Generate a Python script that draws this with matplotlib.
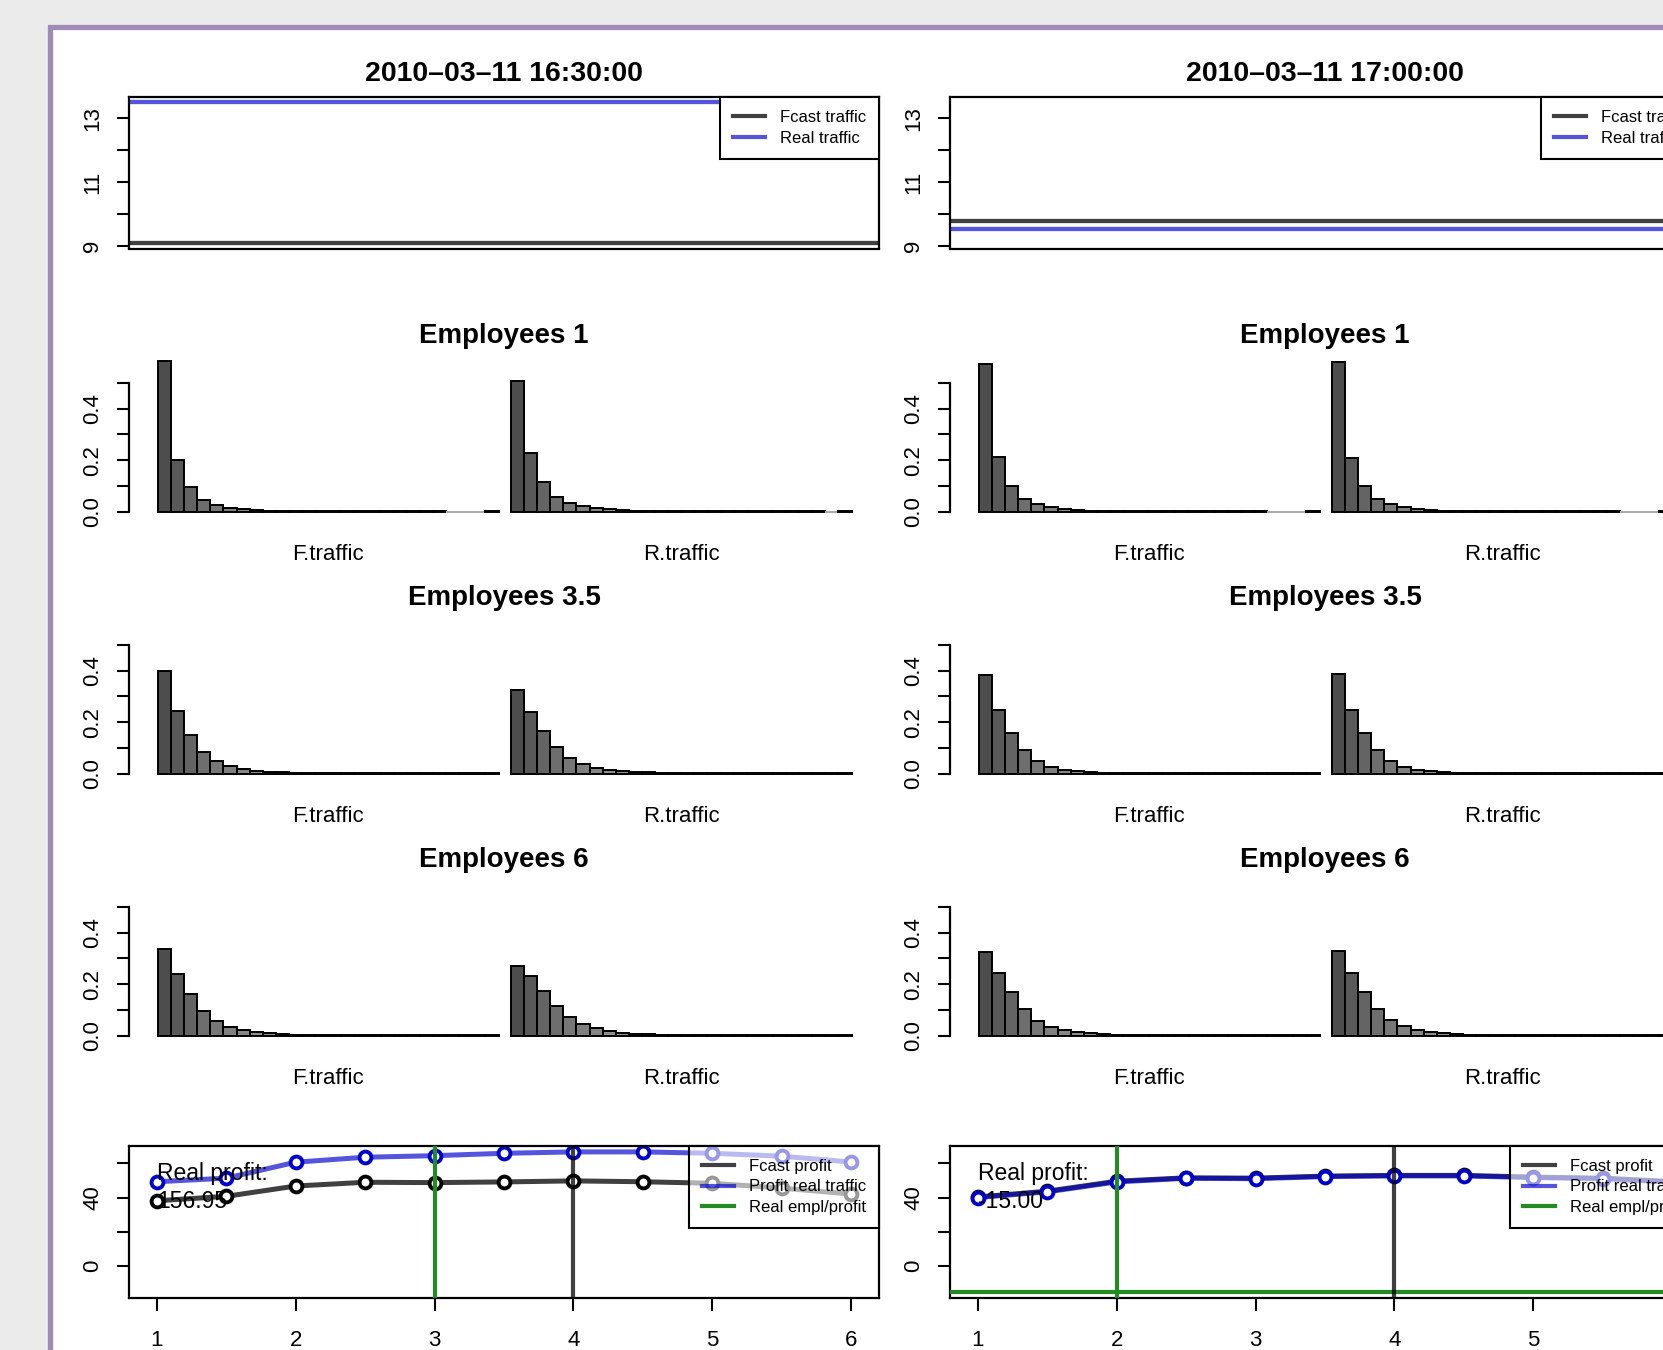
'''traffic forecast vs real traffic, queue histograms per staffing level
and profit curves for two half-hour slots
'''
import matplotlib.pyplot as plt
import numpy as np
from matplotlib.lines import Line2D
from matplotlib.patches import Rectangle

W, H = 1663, 1350
plt.rcParams['font.family'] = ['Liberation Sans', 'DejaVu Sans']

# ---- data -------------------------------------------------------------
slots = ['2010\u201303\u201311 16:30:00', '2010\u201303\u201311 17:00:00']
fcast_traffic = [9.07, 9.76]
real_traffic = [13.50, 9.51]

employees = ['1', '3.5', '6']

# probability of queue length 0..25, slot 16:30
f_1630_e1 = [0.585, 0.202, 0.094, 0.045, 0.024, 0.014, 0.008, 0.005, 0.003, 0.002, 0.001, 0.001, 0.0005,
             0.0003, 0.0002, 0.0001, 0.0001, 0.0001, 0.00005, 0.00003, 0.00002, 0.00001, 0, 0, 0, 0.00001]
r_1630_e1 = [0.509, 0.226, 0.116, 0.058, 0.033, 0.020, 0.012, 0.008, 0.005, 0.003, 0.002, 0.0015, 0.001,
             0.0006, 0.0004, 0.0002, 0.0001, 0.0001, 0.00005, 0.00003, 0.00002, 0.00001, 0.00001, 0.00001, 0, 0.00001]
f_1630_e35 = [0.398, 0.243, 0.148, 0.082, 0.047, 0.028, 0.016, 0.009, 0.006, 0.004, 0.002, 0.001, 0.001,
              0.0005, 0.0003, 0.0002, 0.0001, 0.0001, 0.00005, 0.00003, 0.00002, 0.00001, 0.00001, 0.00001, 0.00001, 0.00001]
r_1630_e35 = [0.326, 0.241, 0.166, 0.102, 0.061, 0.037, 0.022, 0.013, 0.009, 0.006, 0.004, 0.002, 0.001,
              0.001, 0.0005, 0.0003, 0.0002, 0.0001, 0.0001, 0.00005, 0.00003, 0.00002, 0.00001, 0.00001, 0.00001, 0.00001]
f_1630_e6 = [0.338, 0.238, 0.160, 0.094, 0.055, 0.034, 0.020, 0.012, 0.008, 0.005, 0.003, 0.002, 0.001,
             0.0005, 0.0003, 0.0002, 0.0001, 0.0001, 0.00005, 0.00003, 0.00002, 0.00001, 0.00001, 0.00001, 0.00001, 0.00001]
r_1630_e6 = [0.270, 0.230, 0.175, 0.114, 0.072, 0.046, 0.028, 0.018, 0.011, 0.007, 0.004, 0.003, 0.002,
             0.001, 0.0005, 0.0003, 0.0002, 0.0001, 0.0001, 0.00005, 0.00003, 0.00002, 0.00001, 0.00001, 0.00001, 0.00001]

# slot 17:00
f_1700_e1 = [0.575, 0.211, 0.100, 0.049, 0.028, 0.018, 0.010, 0.006, 0.003, 0.002, 0.001, 0.001, 0.0005,
             0.0003, 0.0002, 0.0001, 0.0001, 0.0001, 0.00005, 0.00003, 0.00002, 0.00001, 0, 0, 0, 0.00001]
r_1700_e1 = [0.580, 0.210, 0.100, 0.049, 0.028, 0.017, 0.010, 0.006, 0.003, 0.002, 0.001, 0.001, 0.0005,
             0.0003, 0.0002, 0.0001, 0.0001, 0.0001, 0.00005, 0.00003, 0.00002, 0.00001, 0, 0, 0, 0.00001]
f_1700_e35 = [0.385, 0.247, 0.156, 0.090, 0.047, 0.026, 0.014, 0.008, 0.005, 0.003, 0.002, 0.001, 0.001,
              0.0005, 0.0003, 0.0002, 0.0001, 0.0001, 0.00005, 0.00003, 0.00002, 0.00001, 0.00001, 0.00001, 0.00001, 0.00001]
r_1700_e35 = [0.388, 0.247, 0.156, 0.090, 0.050, 0.027, 0.015, 0.008, 0.005, 0.003, 0.002, 0.001, 0.001,
              0.0005, 0.0003, 0.0002, 0.0001, 0.0001, 0.00005, 0.00003, 0.00002, 0.00001, 0.00001, 0.00001, 0.00001, 0.00001]
f_1700_e6 = [0.326, 0.243, 0.168, 0.102, 0.058, 0.035, 0.021, 0.012, 0.008, 0.005, 0.003, 0.002, 0.001,
             0.0005, 0.0003, 0.0002, 0.0001, 0.0001, 0.00005, 0.00003, 0.00002, 0.00001, 0.00001, 0.00001, 0.00001, 0.00001]
r_1700_e6 = [0.330, 0.243, 0.168, 0.102, 0.061, 0.037, 0.022, 0.013, 0.008, 0.005, 0.003, 0.002, 0.001,
             0.0005, 0.0003, 0.0002, 0.0001, 0.0001, 0.00005, 0.00003, 0.00002, 0.00001, 0.00001, 0.00001, 0.00001, 0.00001]

# profit per number of employees
empl_levels = [1, 1.5, 2, 2.5, 3, 3.5, 4, 4.5, 5, 5.5, 6]
fcast_profit_1630 = [38.2, 40.8, 46.8, 49.0, 48.8, 49.2, 49.8, 49.3, 48.4, 45.6, 42.1]
real_profit_1630 = [49.3, 51.4, 60.7, 63.6, 64.5, 65.9, 66.7, 66.7, 65.9, 64.2, 60.8]
fcast_profit_1700 = [40.4, 43.8, 49.6, 51.6, 51.4, 52.6, 53.0, 53.0, 52.0, 51.4, 49.4]
real_profit_1700 = [40.1, 43.4, 49.2, 51.3, 51.1, 52.3, 52.7, 52.7, 51.7, 51.1, 49.0]
best_empl = [4, 4]
real_empl = [3, 2]
real_profit = [156.95, -15.00]

hists = [[(f_1630_e1, r_1630_e1), (f_1630_e35, r_1630_e35), (f_1630_e6, r_1630_e6)],
         [(f_1700_e1, r_1700_e1), (f_1700_e35, r_1700_e35), (f_1700_e6, r_1700_e6)]]
profits = [(fcast_profit_1630, real_profit_1630), (fcast_profit_1700, real_profit_1700)]

# ---- style ------------------------------------------------------------
GRAY = (0, 0, 0, 0.75)
BLUE = (0, 0, 0.8, 0.67)
GREEN = '#228b22'
nb = len(f_1630_e1)
bar_cols = [str(v) for v in (np.linspace(0.3 ** 2.2, 0.9 ** 2.2, nb) ** (1 / 2.2))]
BW = (498.5 - 158) / nb  # px per bar

plt.rcParams['axes.linewidth'] = 1.6
plt.rcParams['xtick.major.size'] = 9
plt.rcParams['ytick.major.size'] = 9
plt.rcParams['xtick.major.width'] = 1.5
plt.rcParams['ytick.major.width'] = 1.5
plt.rcParams['xtick.labelsize'] = 16
plt.rcParams['ytick.labelsize'] = 16


def px_axes(fig, x0, y0, x1, y1):
    return fig.add_axes([x0 / W, 1 - y1 / H, (x1 - x0) / W, (y1 - y0) / H])


def rot_ylabels(ax):
    ax.tick_params(axis='y', labelrotation=90, pad=9.5)
    for lab in ax.get_yticklabels():
        lab.set_va('center')


def legenda(ax, cores, nomes, fundo):
    handles = [Line2D([], [], color=cor, lw=3) for cor in cores]
    leg = ax.legend(handles, nomes, loc='upper right', bbox_to_anchor=(1, 1), borderaxespad=0,
                    fontsize=12, fancybox=False, edgecolor='black', handlelength=1.95,
                    handletextpad=0.85, labelspacing=0.32, borderpad=0.8)
    fr = leg.get_frame()
    fr.set_linewidth(1.5)
    fr.set_facecolor(fundo)
    fr.set_alpha(None)
    fr.set_edgecolor('black')
    return leg


fig = plt.figure(figsize=(W / 100, H / 100), dpi=100, facecolor='#ebebeb')
fig.patches.append(Rectangle((50.3 / W, -0.1), 1.2, 1.1 - 27 / H, transform=fig.transFigure,
                             facecolor='white', edgecolor='#a08cb6', linewidth=3.8, zorder=-10))

for c in range(2):
    dx = 821 * c
    # traffic
    ax = px_axes(fig, 129 + dx, 97, 879 + dx, 248.5)
    ax.axhline(fcast_traffic[c], color=GRAY, lw=3.1)
    ax.axhline(real_traffic[c], color=BLUE, lw=3.1)
    ax.set_ylim(8.91, 13.67)
    ax.set_xticks([])
    ax.set_yticks([9, 10, 11, 12, 13], ['9', '', '11', '', '13'])
    rot_ylabels(ax)
    legenda(ax, [GRAY, BLUE], ['Fcast traffic', 'Real traffic'], 'white')
    fig.text((504 + dx) / W, 1 - 74 / H, slots[c], ha='center', va='center', fontsize=20.5,
             fontweight='bold')

    # histograms
    for r, emp in enumerate(employees):
        yb = 511.5 + 262 * r
        fig.text((504 + dx) / W, 1 - (yb - 175.5) / H, 'Employees ' + emp, ha='center',
                 va='center', fontsize=20, fontweight='bold')
        for k, (lab, x0, x1, b0) in enumerate([('F.traffic', 129, 505, 158), ('R.traffic', 505, 862, 511)]):
            vals = hists[c][r][k]
            ax = px_axes(fig, x0 + dx, yb - 160, x1 + dx, yb + 6)
            edges = ['black' if v > 0 else '#a8a8a8' for v in vals]
            ax.bar(np.arange(nb), vals, width=1, align='edge', color=bar_cols,
                   edgecolor=edges, linewidth=1.4)
            ax.set_xlim(-(b0 - x0) / BW, (x1 - b0) / BW)
            ax.set_ylim(-6 / 257, 160 / 257)
            ax.set_xticks([])
            for s in ['top', 'right', 'bottom']:
                ax.spines[s].set_visible(False)
            if k == 0:
                ax.spines['left'].set_bounds(0, 0.5)
                ax.set_yticks([0, 0.1, 0.2, 0.3, 0.4, 0.5], ['0.0', '', '0.2', '', '0.4', ''])
                rot_ylabels(ax)
            else:
                ax.spines['left'].set_visible(False)
                ax.set_yticks([])
            ax.patch.set_alpha(0)
            fig.text((b0 + BW * nb / 2 + dx) / W, 1 - (yb + 42.5) / H, lab, ha='center',
                     va='center', fontsize=16)

    # profit
    ax = px_axes(fig, 129 + dx, 1145.7, 879 + dx, 1298.3)
    fp, rp = profits[c]
    ax.plot(empl_levels, fp, color=GRAY, lw=3.6, marker='o', ms=8.5, mew=2.8, mfc='white')
    ax.plot(empl_levels, rp, color=BLUE, lw=3.6, marker='o', ms=8.5, mew=2.8, mfc='white')
    ax.axvline(real_empl[c], color=GREEN, lw=3, zorder=3)
    ax.axhline(real_profit[c], color=GREEN, lw=3, zorder=3)
    ax.axvline(best_empl[c], color=GRAY, lw=3, zorder=3)
    ax.text(1, 46.0, 'Real profit:\n%.2f' % real_profit[c], ha='left', va='center',
            fontsize=16.5, zorder=4, linespacing=1.3)
    ax.set_xlim(0.8, 6.2)
    ax.set_ylim(-18.66, 70.32)
    ax.set_xticks([1, 2, 3, 4, 5, 6])
    ax.tick_params(axis='x', pad=14)
    ax.set_yticks([0, 20, 40, 60], ['0', '', '40', ''])
    rot_ylabels(ax)
    legenda(ax, [GRAY, BLUE, GREEN], ['Fcast profit', 'Profit real traffic', 'Real empl/profit'],
            (1, 1, 1, 0.6))

fig.savefig('out.png', dpi=100, facecolor=fig.get_facecolor())
